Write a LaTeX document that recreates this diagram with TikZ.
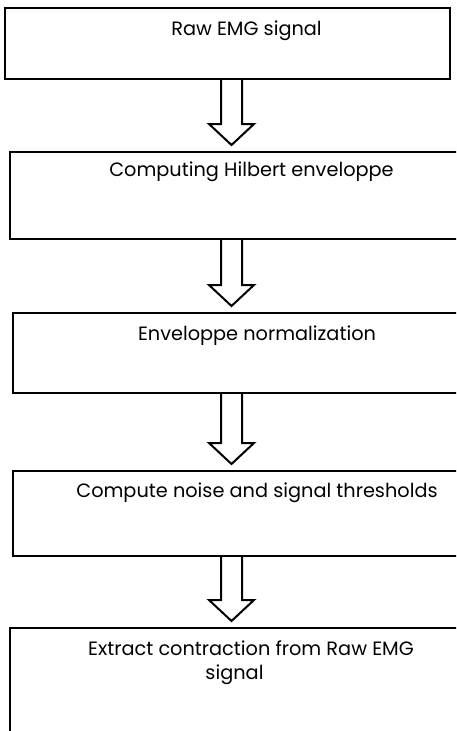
\documentclass[tikz,border=0pt]{standalone}
\usepackage{fontspec}
\setmainfont{Poppins}
\usetikzlibrary{calc}
\tikzset{
  stepbox/.style={draw=black, line width=2pt, fill=white, inner sep=0pt},
  steptext/.style={font=\fontsize{19.3}{24.5}\selectfont, text=black, anchor=base, inner sep=0pt},
  blockarrow/.style={draw=black, line width=2pt, fill=white, line join=miter},
}
\newcommand\flowarrow[2]{%
  \draw[blockarrow] let \p1=(ax |- #1.south), \p2=(ax |- #2.north) in
    (\x1-10.5,\y1) -- (\x1-10.5,\y2+27) -- (\x1-22.5,\y2+27) -- (\x1,\y2+6)
    -- (\x1+22.5,\y2+27) -- (\x1+10.5,\y2+27) -- (\x1+10.5,\y1);
}
\begin{document}
\begin{tikzpicture}[x=1pt,y=-1pt]
  \useasboundingbox (0,0) rectangle (456,731);
  \clip (0,0) rectangle (456,731);
  \fill[white] (0,0) rectangle (456,731);
  \coordinate (ax) at (231.5,0);
  % boxes
  \node[stepbox, minimum width=445.5pt, minimum height=71pt] (b1) at (227.25,43.5) {};
  \node[stepbox, minimum width=450pt, minimum height=87pt] (b2) at (235,195.5) {};
  \node[stepbox, minimum width=447pt, minimum height=80pt] (b3) at (236.5,353) {};
  \node[stepbox, minimum width=447pt, minimum height=85pt] (b4) at (236.5,513.5) {};
  \node[stepbox, minimum width=450pt, minimum height=112pt] (b5) at (235,684) {};
  % texts
  \node[steptext] (t1) at (246.5,35.7) {Raw EMG signal};
  \node[steptext] (t2) at (251.5,176.7) {Computing Hilbert enveloppe};
  \node[steptext] (t3) at (257,340.7) {Enveloppe normalization};
  \node[steptext] (t4) at (257,497) {Compute noise and signal thresholds};
  \node[steptext, align=center] (t5) at (251,679.5) {Extract contraction from Raw EMG\\\hspace*{-33pt}signal};
  % arrows
  \flowarrow{b1}{b2}
  \flowarrow{b2}{b3}
  \flowarrow{b3}{b4}
  \flowarrow{b4}{b5}
\end{tikzpicture}
\end{document}
